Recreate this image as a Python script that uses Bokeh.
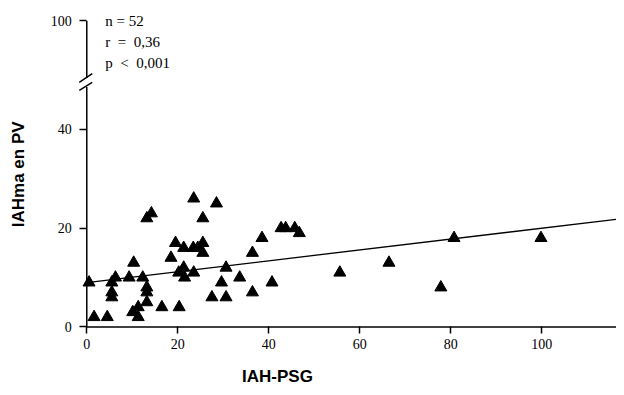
import math
from bokeh.plotting import figure
from bokeh.models import LinearAxis, FixedTicker, Range1d, Label, ColumnDataSource
from bokeh.core.properties import value
from bokeh.embed import file_html
from bokeh.resources import INLINE

# ---- data ----
iah_psg = [0.5, 1.6, 4.5, 5.5, 5.5, 5.5, 6.3, 9.3, 10.3, 10.1,
           11.3, 11.3, 12.3, 13.2, 13.2, 13.2, 13.2, 14.2, 16.5, 18.5,
           19.5, 20.3, 20.2, 21.3, 21.5, 21.3, 23.5, 23.4, 24.4, 23.5,
           25.5, 25.5, 25.5, 28.5, 27.5, 29.6, 30.6, 30.6, 33.6, 36.4,
           36.4, 38.5, 40.7, 42.7, 43.7, 45.7, 46.7, 55.6, 66.4, 77.8,
           80.7, 99.8]
iahma_pv = [9, 2, 2, 9, 7, 6, 10, 10, 13, 3,
            4, 2, 10, 8, 7, 5, 22, 23, 4, 14,
            17, 4, 11, 12, 10, 16, 26, 16, 16, 11,
            22, 17, 15, 25, 6, 9, 12, 6, 10, 15,
            7, 18, 9, 20, 20, 20, 19, 11, 13, 8,
            18, 18]

reg_intercept = 9.0
reg_slope = 0.11

x_ticks = [0, 20, 40, 60, 80, 100]
y_ticks = [0, 20, 40]
y_break_tick_pos = 62          # display position of the "100" tick (after the axis break)
y_break_tick_label = "100"
stats_lines = ["n = 52", "r \u00a0= \u00a00,36", "p \u00a0< \u00a00,001"]

# the frame covers the whole figure; axes are placed at x=0 / y=0 inside it
X_START, X_END = -18.96, 116.4
Y_START, Y_END = -12.25, 66.09
X_AXIS_END = 118.0
BREAK_LO, BREAK_HI = 48.6, 50.4

p = figure(width=616, height=387,
           x_range=Range1d(X_START, X_END), y_range=Range1d(Y_START, Y_END),
           output_backend="svg", toolbar_location=None,
           x_axis_location=None, y_axis_location=None,
           min_border_left=0, min_border_right=0,
           min_border_top=0, min_border_bottom=0)
p.title.visible = False
p.outline_line_color = None
p.grid.visible = False
p.background_fill_color = "white"
p.border_fill_color = "white"

tick_font = "Liberation Serif"

xaxis = LinearAxis(fixed_location=0, ticker=FixedTicker(ticks=x_ticks))
yaxis = LinearAxis(fixed_location=0, ticker=FixedTicker(ticks=y_ticks + [y_break_tick_pos]),
                   major_label_overrides={y_break_tick_pos: y_break_tick_label})
for ax in (xaxis, yaxis):
    ax.axis_line_color = None
    ax.major_tick_line_color = "black"
    ax.major_tick_line_width = 1.5
    ax.major_tick_out = 7
    ax.major_tick_in = 0
    ax.minor_tick_line_color = None
    ax.major_label_text_font = tick_font
    ax.major_label_text_font_size = "14px"
    ax.major_label_text_color = "black"
xaxis.major_label_standoff = 5
yaxis.major_label_standoff = 8
p.add_layout(xaxis, "below")
p.add_layout(yaxis, "left")

# axis lines with the break on the y axis
p.segment(x0=[0, 0, 0], y0=[0, 0, BREAK_HI], x1=[X_AXIS_END, 0, 0], y1=[0, BREAK_LO, y_break_tick_pos],
          line_color="black", line_width=1.5)
# break marks
p.segment(x0=[-1.65, -1.65], y0=[49.5, 47.9], x1=[1.2, 1.2], y1=[51.3, 49.5],
          line_color="black", line_width=1.5)

# regression line
p.line(x=[0, X_AXIS_END], y=[reg_intercept, reg_intercept + reg_slope * X_AXIS_END],
       line_color="black", line_width=1.3)

src = ColumnDataSource(dict(x=iah_psg, y=iahma_pv))
p.scatter("x", "y", source=src, marker="triangle", size=12,
          fill_color="black", line_color="black")

# statistics text
p.text(x=[4.07, 4.07, 4.07], y=[62.0, 57.6, 53.5], text=stats_lines,
       text_font=value("Liberation Serif"), text_font_size="15px",
       text_color="black", text_baseline="alphabetic", text_align="left")

# axis titles
p.add_layout(Label(x=41.9, y=-10.0, text="IAH-PSG", text_font="Liberation Sans",
                   text_font_style="bold", text_font_size="17px", text_color="black",
                   text_align="center", text_baseline="middle"))
p.add_layout(Label(x=-15.05, y=30.9, text="IAHma en PV", angle=math.pi / 2,
                   text_font="Liberation Sans",
                   text_font_style="bold", text_font_size="17px", text_color="black",
                   text_align="center", text_baseline="middle"))

open("out.html", "w").write(file_html(p, INLINE))
